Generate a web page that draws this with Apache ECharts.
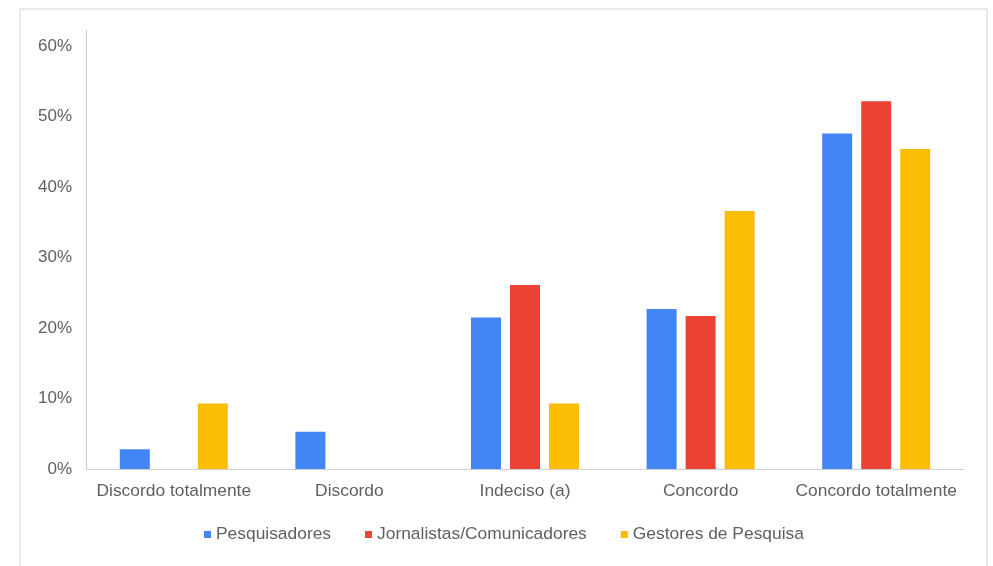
<!DOCTYPE html>
<html>
<head>
<meta charset="utf-8">
<style>
  html, body { margin: 0; padding: 0; background: #ffffff; }
  #chart { width: 993px; height: 566px; }
</style>
<script src="https://cdn.jsdelivr.net/npm/echarts@6/dist/echarts.min.js"></script>
</head>
<body>
<div id="chart"></div>
<script>
// Survey responses by group (percent)
const categories = ['Discordo totalmente', 'Discordo', 'Indeciso (a)', 'Concordo', 'Concordo totalmente'];
const seriesNames = ['Pesquisadores', 'Jornalistas/Comunicadores', 'Gestores de Pesquisa'];
const pesquisadores = [2.8, 5.3, 21.5, 22.7, 47.6];
const jornalistas = [0, 0, 26.1, 21.7, 52.2];
const gestores = [9.3, 0, 9.3, 36.6, 45.4];
const tickStep = 10;
const colors = ['#4285F4', '#EA4335', '#FBBC04'];

const textColor = '#606060';
const fontFamily = '"Liberation Sans", Arial, sans-serif';

const chart = echarts.init(document.getElementById('chart'), null, { renderer: 'canvas' });

const seriesData = [pesquisadores, jornalistas, gestores];

chart.setOption({
  animation: false,
  backgroundColor: '#ffffff',
  color: colors,
  textStyle: { fontFamily: fontFamily },
  graphic: [{
    type: 'rect',
    shape: { x: 20, y: 9, width: 967, height: 580 },
    style: { fill: 'none', stroke: '#e2e2e2', lineWidth: 1.5 },
    silent: true,
    z: -1
  }],
  grid: { left: 86, right: 29, top: 30, bottom: 97 },
  legend: {
    left: 204,
    top: 526,
    padding: 0,
    itemWidth: 7,
    itemHeight: 7,
    itemGap: 34,
    icon: 'rect',
    textStyle: { color: textColor, fontSize: 17.4, fontFamily: fontFamily, padding: [0, 0, 0, 0] },
    data: seriesNames
  },
  xAxis: {
    type: 'category',
    data: categories,
    axisLine: { show: true, lineStyle: { color: '#cfcfcf', width: 1 } },
    axisTick: { show: false },
    axisLabel: { color: textColor, fontSize: 17.4, fontFamily: fontFamily, margin: 14, interval: 0 },
    splitLine: { show: false }
  },
  yAxis: {
    type: 'value',
    min: 0,
    max: 62.3,
    interval: tickStep,
    axisLine: { show: true, lineStyle: { color: '#cfcfcf', width: 1 } },
    axisTick: { show: false },
    splitLine: { show: false },
    axisLabel: {
      color: textColor,
      fontSize: 17,
      fontFamily: fontFamily,
      margin: 14,
      formatter: function (v) {
        return (Math.abs(v % tickStep) < 1e-6) ? v + '%' : '';
      }
    }
  },
  series: seriesNames.map(function (name, i) {
    return {
      name: name,
      type: 'bar',
      data: seriesData[i],
      barWidth: 30,
      barGap: '30%',
      itemStyle: { color: colors[i] }
    };
  })
});
</script>
</body>
</html>
